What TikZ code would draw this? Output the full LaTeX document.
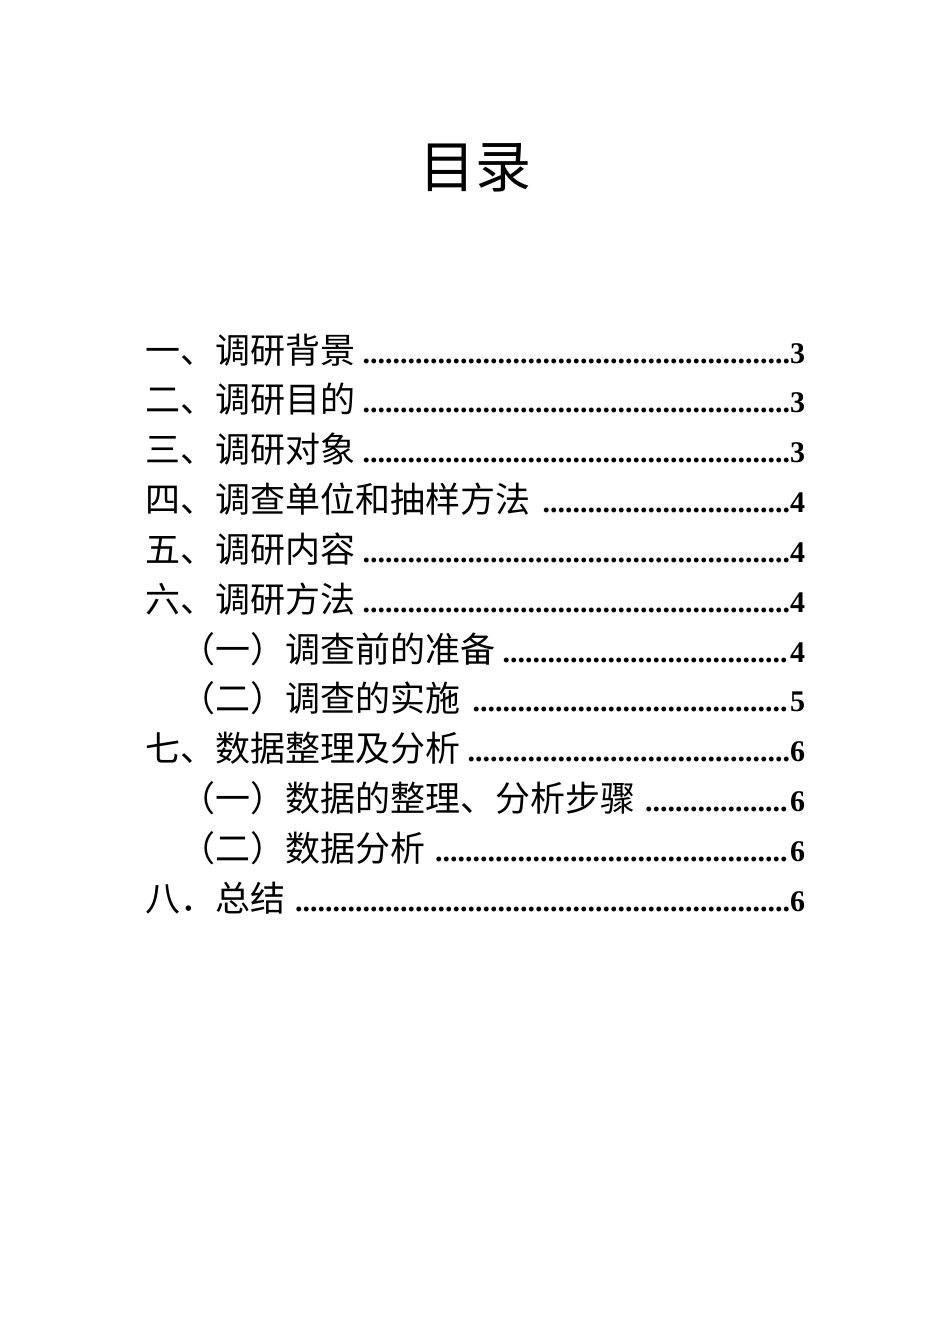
\documentclass[tikz,border=0pt]{standalone}
\usepackage{fontspec}
\setmainfont{Liberation Serif}
\newfontfamily\cjk{Noto Sans CJK SC}
\begin{document}
\begin{tikzpicture}[x=1pt,y=-1pt]
\useasboundingbox (0,0) rectangle (950,1344);
\tikzset{tocline/.style={anchor=west,inner sep=0pt,font=\fontsize{30}{30}\selectfont}}
\node[font=\cjk\fontsize{56}{56}\selectfont,inner sep=0pt] (title) at (475,168) {目录};
\def\L#1#2#3#4#5{\node[tocline] (#1) at (#2,#3) {\hbox to \dimexpr805pt-#2pt\relax{{\cjk\fontsize{35}{35}\selectfont #4}\ \bfseries\leaders\hbox{.}\hfill\kern-2pt #5}};}
\L{a}{145}{350}{一、调研背景}{3}
\L{b}{145}{399}{二、调研目的}{3}
\L{c}{145}{449}{三、调研对象}{3}
\L{d}{145}{499}{四、调查单位和抽样方法}{4}
\L{e}{145}{549}{五、调研内容}{4}
\L{f}{145}{599}{六、调研方法}{4}
\L{g}{180}{649}{（一）调查前的准备}{4}
\L{h}{180}{698}{（二）调查的实施}{5}
\L{i}{145}{748}{七、数据整理及分析}{6}
\L{j}{180}{798}{（一）数据的整理、分析步骤}{6}
\L{k}{180}{848}{（二）数据分析}{6}
\L{l}{145}{898}{八．总结}{6}
\end{tikzpicture}
\end{document}
